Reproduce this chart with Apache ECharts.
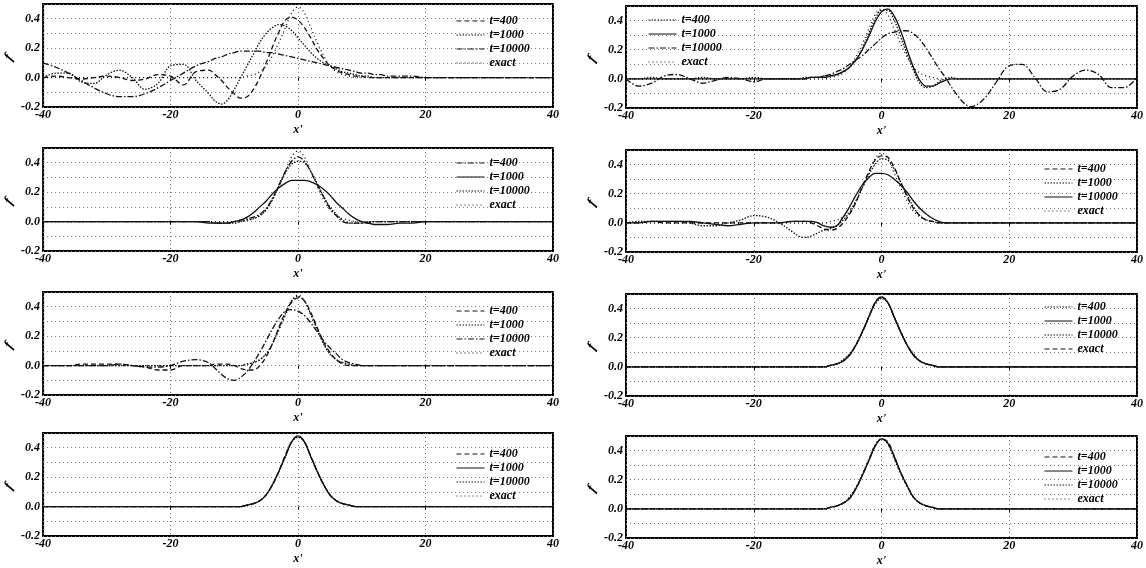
<!DOCTYPE html>
<html>
<head>
<meta charset="utf-8">
<script src="https://cdn.jsdelivr.net/npm/echarts@6/dist/echarts.min.js"></script>
<style>
html,body{margin:0;padding:0;background:#fff;}
#chart{width:1146px;height:568px;}
</style>
</head>
<body>
<div id="chart"></div>
<script>
// x' sample positions (finer near the pulse)
const xs = [
  -40,-38,-36,-34,-32,-30,-28,-26,-24,-22,-20,-18,-16,
  -14,-13,-12,-11,-10,-9,-8,-7,-6,-5,-4,-3,-2,-1,0,1,2,3,4,5,6,7,8,9,10,11,12,13,14,
  16,18,20,22,24,26,28,30,32,34,36,38,40
];
const seriesNames = ['t=400', 't=1000', 't=10000', 'exact'];
const xTicks = [-40, -20, 0, 20, 40];
const yTicks = [-0.2, 0.0, 0.2, 0.4];

const exact = [
  0,0,0,0,0,0,0,0,0,0,0,0,0,
  0,0,0,0,0,0,0.01,0.02,0.04,0.08,0.15,0.24,0.34,0.44,0.48,0.44,0.34,0.24,0.15,0.08,0.04,0.02,0.01,0,0,0,0,0,0,
  0,0,0,0,0,0,0,0,0,0,0,0,0
];

// panel 1 (top left)
const p1_t400 = [
  0,0.01,0,-0.01,0,0.01,0,-0.02,-0.01,0.02,0.01,-0.05,0.04,
  0.05,0.02,-0.02,-0.07,-0.11,-0.14,-0.13,-0.08,0.0,0.1,0.21,0.31,0.39,0.41,0.39,0.34,0.27,0.19,0.13,0.08,0.05,0.03,0.02,0.01,0.01,0,0,0,0,
  0,0,0,0,0,0,0,0,0,0,0,0,0
];
const p1_t1000 = [
  0,0.03,0.03,-0.03,-0.04,0.02,0.05,0.0,-0.08,-0.04,0.08,0.09,-0.02,
  -0.11,-0.16,-0.18,-0.15,-0.08,0.0,0.08,0.16,0.24,0.3,0.34,0.36,0.35,0.32,0.27,0.22,0.17,0.13,0.1,0.08,0.06,0.04,0.03,0.02,0.01,0.01,0,0,0,
  0,0,0,0,0,0,0,0,0,0,0,0,0
];
const p1_t10000 = [
  0.1,0.07,0.03,-0.02,-0.07,-0.11,-0.13,-0.13,-0.11,-0.07,-0.02,0.03,0.08,
  0.11,0.13,0.14,0.16,0.17,0.18,0.18,0.18,0.18,0.17,0.17,0.16,0.15,0.14,0.13,0.12,0.11,0.1,0.09,0.08,0.07,0.06,0.05,0.04,0.03,0.03,0.02,0.02,0.01,
  0.01,0.01,0,0,0,0,0,0,0,0,0,0,0
];

// panel 2 (top right)
const p2_t400 = [
  0,0,0.01,0,0,0,0.01,0,0,0,0.01,0,0,
  0,0,0.01,0.01,0.01,0.02,0.02,0.03,0.05,0.08,0.13,0.21,0.31,0.41,0.47,0.47,0.4,0.29,0.17,0.06,-0.03,-0.06,-0.05,-0.02,0,0.01,0,0,0,
  0,0,0,0,0,0,0,0,0,0,0,0,0
];
const p2_t1000 = [
  0,0,0,0,0,0,0,0,0,0,0,0,0,
  0,0,0,0.01,0.01,0.01,0.02,0.03,0.05,0.08,0.13,0.2,0.29,0.39,0.46,0.48,0.43,0.33,0.2,0.08,-0.01,-0.05,-0.05,-0.03,-0.01,0,0,0,0,
  0,0,0,0,0,0,0,0,0,0,0,0,0
];
const p2_t10000 = [
  0,-0.05,-0.03,0.02,0.03,0.0,-0.03,-0.01,0.01,0.0,-0.02,0.0,0.0,
  0,0,0,0.01,0.01,0.02,0.03,0.05,0.07,0.1,0.13,0.16,0.2,0.24,0.28,0.31,0.32,0.33,0.33,0.31,0.27,0.21,0.14,0.07,0.01,-0.06,-0.12,-0.17,-0.19,
  -0.14,-0.02,0.09,0.1,0.01,-0.09,-0.07,0.02,0.06,0.03,-0.06,-0.06,0.01
];

// panel 3
const p3_t400 = [
  0,0,0,0,0,0,0,0,0,0,0,0,0,
  0,-0.01,-0.01,-0.01,0,0.01,0.02,0.03,0.05,0.09,0.16,0.25,0.34,0.41,0.44,0.41,0.34,0.25,0.17,0.09,0.04,0.0,-0.01,-0.01,-0.01,-0.01,0,0,0,
  0,0,0,0,0,0,0,0,0,0,0,0,0
];
const p3_t1000 = [
  0,0,0,0,0,0,0,0,0,0,0,0,0,
  -0.01,-0.01,-0.01,-0.01,0,0.01,0.03,0.06,0.1,0.14,0.19,0.23,0.26,0.28,0.28,0.28,0.27,0.25,0.22,0.18,0.13,0.09,0.05,0.02,0,-0.01,-0.02,-0.02,-0.02,
  -0.01,-0.01,0,0,0,0,0,0,0,0,0,0,0
];
const p3_t10000 = [
  0,0,0,0,0,0,0,0,0,0,0,0,0,
  0,-0.01,-0.01,-0.01,-0.01,0,0.01,0.02,0.04,0.08,0.15,0.24,0.33,0.39,0.41,0.4,0.34,0.26,0.17,0.1,0.05,0.01,-0.01,-0.01,-0.01,0,0,0,0,
  0,0,0,0,0,0,0,0,0,0,0,0,0
];

// panel 4
const p4_t400 = [
  0,0,0.01,0,0,0,0,0,0,0,0,0,0,
  0.01,0.01,0.01,0,-0.02,-0.04,-0.05,-0.04,0,0.06,0.14,0.25,0.35,0.43,0.46,0.45,0.38,0.28,0.18,0.1,0.05,0.02,0.01,0,0,0,0,0,0,
  0,0,0,0,0,0,0,0,0,0,0,0,0
];
const p4_t1000 = [
  0,0.01,0.01,0.01,0.01,0,-0.02,-0.02,0,0.02,0.05,0.04,0,
  -0.06,-0.09,-0.1,-0.09,-0.07,-0.05,-0.04,-0.02,0.02,0.07,0.15,0.24,0.33,0.4,0.44,0.43,0.37,0.28,0.19,0.11,0.05,0.02,0.01,0,0,0,0,0,0,
  0,0,0,0,0,0,0,0,0,0,0,0,0
];
const p4_t10000 = [
  0,0,0.01,0.01,0.01,0.01,0,-0.01,-0.02,-0.01,0,0,0,
  0.01,0.01,0.01,0.01,0,-0.02,-0.03,-0.02,0.04,0.11,0.19,0.26,0.31,0.34,0.34,0.33,0.3,0.26,0.21,0.15,0.1,0.06,0.03,0.01,0,0,0,0,0,
  0,0,0,0,0,0,0,0,0,0,0,0,0
];

// panel 5
const p5_t400 = [
  0,0,0,0.01,0.01,0.01,0.01,0,-0.01,-0.03,-0.03,0,0,
  0,0.01,0.01,0.01,0,-0.02,-0.03,-0.03,0,0.06,0.15,0.26,0.36,0.43,0.46,0.44,0.36,0.26,0.16,0.09,0.04,0.01,0,0,0,0,0,0,0,
  0,0,0,0,0,0,0,0,0,0,0,0,0
];
const p5_t1000 = [
  0,0,0,0,0,0,0,0,0,0,0,0,0,
  0,0,0,0,0,0,0.01,0.02,0.04,0.08,0.15,0.25,0.35,0.44,0.47,0.44,0.35,0.25,0.15,0.08,0.04,0.02,0.01,0,0,0,0,0,0,
  0,0,0,0,0,0,0,0,0,0,0,0,0
];
const p5_t10000 = [
  0,0,0,0,0,0,0.01,0,-0.01,-0.01,0,0.03,0.04,
  0.02,-0.02,-0.06,-0.09,-0.1,-0.08,-0.04,0.02,0.09,0.17,0.25,0.32,0.37,0.38,0.37,0.34,0.29,0.23,0.17,0.12,0.08,0.04,0.02,0.01,0,0,0,0,0,
  0,0,0,0,0,0,0,0,0,0,0,0,0
];

// panel 6
const p6_t400 = [
  0,0,0,0,0,0,0,0,0,0,0,0,0,
  0,0,0,0,0,0,0.01,0.02,0.04,0.08,0.15,0.24,0.34,0.43,0.47,0.44,0.34,0.24,0.15,0.08,0.04,0.02,0.01,0,0,0,0,0,0,
  0,0,0,0,0,0,0,0,0,0,0,0,0
];
const p6_t1000 = [
  0,0,0,0,0,0,0,0,0,0,0,0,0,
  0,0,0,0,0,0,0.01,0.02,0.04,0.08,0.15,0.24,0.34,0.44,0.48,0.44,0.34,0.24,0.15,0.08,0.04,0.02,0.01,0,0,0,0,0,0,
  0,0,0,0,0,0,0,0,0,0,0,0,0
];
const p6_t10000 = [
  0,0,0,0,0,0,0,0,0,0,0,0,0,
  0,0,0,0,0,0,0.01,0.02,0.05,0.09,0.15,0.24,0.34,0.44,0.48,0.44,0.34,0.24,0.15,0.09,0.04,0.02,0.01,0,0,0,0,0,0,
  0,0,0,0,0,0,0,0,0,0,0,0,0
];

// panel 7
const p7_t400 = [
  0,0,0,0,0,0,0,0,0,0,0,0,0,
  0,0,0,0,0,0,0.01,0.02,0.04,0.08,0.15,0.24,0.35,0.44,0.48,0.44,0.34,0.24,0.15,0.08,0.04,0.02,0.01,0,0,0,0,0,0,
  0,0,0,0,0,0,0,0,0,0,0,0,0
];
const p7_t1000 = [
  0,0,0,0,0,0,0,0,0,0,0,0,0,
  0,0,0,0,0,0,0.01,0.02,0.04,0.08,0.15,0.24,0.34,0.44,0.48,0.44,0.34,0.24,0.15,0.08,0.04,0.02,0.01,0,0,0,0,0,0,
  0,0,0,0,0,0,0,0,0,0,0,0,0
];
const p7_t10000 = [
  0,0,0,0,0,0,0,0,0,0,0,0,0,
  0,0,0,0,0,0,0.01,0.02,0.04,0.08,0.15,0.24,0.34,0.44,0.47,0.44,0.34,0.24,0.15,0.08,0.04,0.02,0.01,0,0,0,0,0,0,
  0,0,0,0,0,0,0,0,0,0,0,0,0
];

// panel 8
const p8_t400 = [
  0,0,0,0,0,0,0,0,0,0,0,0,0,
  0,0,0,0,0,0,0.01,0.02,0.04,0.07,0.14,0.23,0.33,0.43,0.48,0.46,0.36,0.25,0.16,0.08,0.04,0.02,0.01,0,0,0,0,0,0,
  0,0,0,0,0,0,0,0,0,0,0,0,0
];
const p8_t1000 = [
  0,0,0,0,0,0,0,0,0,0,0,0,0,
  0,0,0,0,0,0,0.01,0.02,0.04,0.07,0.14,0.23,0.33,0.43,0.48,0.45,0.36,0.25,0.16,0.08,0.04,0.02,0.01,0,0,0,0,0,0,
  0,0,0,0,0,0,0,0,0,0,0,0,0
];
const p8_t10000 = [
  0,0,0,0,0,0,0,0,0,0,0,0,0,
  0,0,0,0,0,0,0.01,0.02,0.04,0.08,0.14,0.23,0.33,0.43,0.48,0.45,0.35,0.25,0.16,0.08,0.04,0.02,0.01,0,0,0,0,0,0,
  0,0,0,0,0,0,0,0,0,0,0,0,0
];

const panelData = [
  [p1_t400, p1_t1000, p1_t10000, exact],
  [p2_t400, p2_t1000, p2_t10000, exact],
  [p3_t400, p3_t1000, p3_t10000, exact],
  [p4_t400, p4_t1000, p4_t10000, exact],
  [p5_t400, p5_t1000, p5_t10000, exact],
  [p6_t400, p6_t1000, p6_t10000, exact],
  [p7_t400, p7_t1000, p7_t10000, exact],
  [p8_t400, p8_t1000, p8_t10000, exact]
];

// styles
const DASH = [5, 3], DOT = [1.5, 1.5], DASHDOT = [6, 2, 1.5, 2], SPARSE = [1, 3], SOLID = 'solid';
const lineTypes = [
  [DASH, DOT, DASHDOT, SPARSE],
  [DOT, SOLID, DASHDOT, SPARSE],
  [DASHDOT, SOLID, DOT, SPARSE],
  [DASH, DOT, SOLID, SPARSE],
  [DASH, DOT, DASHDOT, SPARSE],
  [DOT, SOLID, DOT, DASH],
  [DASH, SOLID, DOT, SPARSE],
  [DASH, SOLID, DOT, SPARSE]
];
// grid boxes [left, top, width, height]
const boxes = [
  [42, 4, 511, 103], [626, 6, 514, 102],
  [42, 148, 511, 103], [626, 150, 514, 102],
  [42, 292, 511, 103], [626, 294, 514, 102],
  [42, 433, 511, 103], [626, 436, 514, 102]
];
// legend corner [left, top]
const legendPos = [
  [456, 15], [648, 14], [456, 157], [1044, 163],
  [456, 305], [1044, 301], [456, 448], [1044, 451]
];

const font = 'Liberation Serif, Times New Roman, serif';
const txt = {fontFamily: font, fontStyle: 'italic', fontWeight: 'bold', color: '#000'};

const chart = echarts.init(document.getElementById('chart'));
const grid = [], xAxis = [], yAxis = [], series = [], legend = [];

boxes.forEach(function (b, p) {
  grid.push({left: b[0], top: b[1], width: b[2], height: b[3], show: true,
    borderColor: '#000', borderWidth: 2, backgroundColor: '#fff'});
  xAxis.push({
    gridIndex: p, type: 'value', min: xTicks[0], max: xTicks[xTicks.length - 1], interval: 20,
    name: "x'", nameLocation: 'middle', nameGap: 17,
    nameTextStyle: Object.assign({fontSize: 12}, txt),
    axisLine: {show: false},
    axisTick: {show: true, length: 3, lineStyle: {color: '#000'}},
    axisLabel: Object.assign({fontSize: 12, margin: 2, showMinLabel: true, showMaxLabel: true}, txt),
    splitLine: {show: true, lineStyle: {color: '#777', type: [1, 3], width: 1}}
  });
  yAxis.push({
    gridIndex: p, type: 'value', min: -0.2, max: 0.5, interval: 0.1,
    name: 'f', nameLocation: 'middle', nameGap: 27, nameRotate: 60,
    nameTextStyle: Object.assign({fontSize: 14}, txt),
    axisLine: {show: false},
    axisTick: {show: false},
    axisLabel: Object.assign({fontSize: 12, margin: 3,
      formatter: function (v) {
        const k = Math.round(v * 10) / 10;
        return yTicks.some(function (t) { return Math.abs(t - k) < 1e-6; }) ? k.toFixed(1) : '';
      }}, txt),
    splitLine: {show: true, lineStyle: {color: '#777', type: [1, 3], width: 1}}
  });
  const names = [];
  panelData[p].forEach(function (arr, k) {
    const nm = (p + 1) + '|' + seriesNames[k];
    names.push(nm);
    series.push({
      type: 'line', name: nm, xAxisIndex: p, yAxisIndex: p,
      data: xs.map(function (x, i) { return [x, arr[i]]; }),
      smooth: 0.35, symbol: 'none', showSymbol: false, silent: true,
      z: 4 - k,
      itemStyle: {color: '#111'},
      lineStyle: {color: '#111', width: 1.3, type: lineTypes[p][k]}
    });
  });
  legend.push({
    data: names, orient: 'vertical', left: legendPos[p][0], top: legendPos[p][1],
    itemWidth: 28, itemHeight: 9, itemGap: 2, padding: 0, selectedMode: false,
    itemStyle: {opacity: 0},
    lineStyle: {width: 1},
    formatter: function (n) { return n.split('|')[1]; },
    textStyle: Object.assign({fontSize: 12}, txt)
  });
});

chart.setOption({
  backgroundColor: '#fff',
  animation: false,
  grid: grid, xAxis: xAxis, yAxis: yAxis, legend: legend, series: series
});
</script>
</body>
</html>
